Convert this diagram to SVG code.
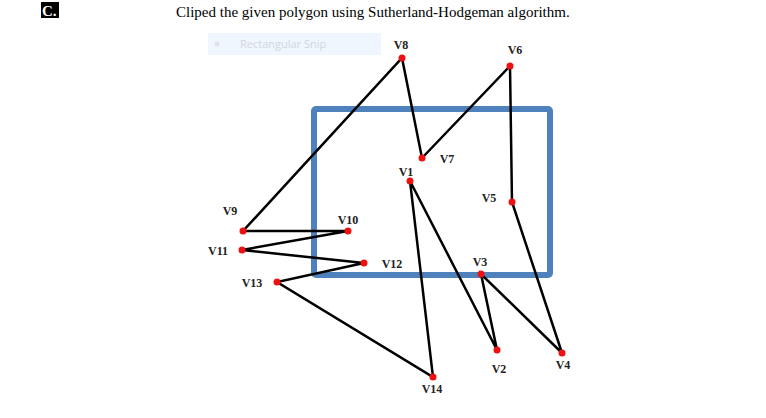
<svg xmlns="http://www.w3.org/2000/svg" width="766" height="418" viewBox="0 0 766 418">
<style>
.lbl{font-family:"Liberation Serif",serif;font-weight:bold;font-size:12px;fill:#222;text-anchor:middle}
.edge{stroke:#000;stroke-width:2.5;fill:none}
.pt{fill:#ee1111}
</style>
<rect width="766" height="418" fill="#fff"/>
<rect x="41" y="2" width="18" height="16" fill="#000"/>
<text x="42" y="16" font-family="Liberation Serif,serif" font-weight="bold" font-size="15" fill="#fff">C.</text>
<text x="176" y="17" font-family="Liberation Serif,serif" font-size="15" fill="#000">Cliped the given polygon using Sutherland-Hodgeman algorithm.</text>
<g id="snip">
<rect x="208" y="33" width="173" height="22" fill="#f0f6fd"/>
<circle cx="217" cy="44" r="2.5" fill="#dde4ec"/>
<text x="240" y="48" font-family="Open Sans,sans-serif" font-size="11" fill="#cfd6de">Rectangular Snip</text>
</g>
<g id="window">
<rect x="314" y="109" width="236" height="166" rx="2" fill="none" stroke="#4f81bd" stroke-width="6"/>
</g>
<g id="connectors">
<polygon class="edge" points="410,181 497,350 481,274 562,353 512,202 510,66 422,158 402,58 243,231 348,231 242,250 364,263 277,282 433,377"/>
</g>
<g id="V1"><circle class="pt" cx="410" cy="181" r="3.5"/><text class="lbl" x="406" y="176">V1</text></g>
<g id="V2"><circle class="pt" cx="497" cy="350" r="3.5"/><text class="lbl" x="499" y="373">V2</text></g>
<g id="V3"><circle class="pt" cx="481" cy="274" r="3.5"/><text class="lbl" x="480" y="266">V3</text></g>
<g id="V4"><circle class="pt" cx="562" cy="353" r="3.5"/><text class="lbl" x="563" y="369">V4</text></g>
<g id="V5"><circle class="pt" cx="512" cy="202" r="3.5"/><text class="lbl" x="489" y="202">V5</text></g>
<g id="V6"><circle class="pt" cx="510" cy="66" r="3.5"/><text class="lbl" x="515" y="54">V6</text></g>
<g id="V7"><circle class="pt" cx="422" cy="158" r="3.5"/><text class="lbl" x="447" y="163">V7</text></g>
<g id="V8"><circle class="pt" cx="402" cy="58" r="3.5"/><text class="lbl" x="401" y="49">V8</text></g>
<g id="V9"><circle class="pt" cx="243" cy="231" r="3.5"/><text class="lbl" x="230" y="215">V9</text></g>
<g id="V10"><circle class="pt" cx="348" cy="231" r="3.5"/><text class="lbl" x="348" y="224">V10</text></g>
<g id="V11"><circle class="pt" cx="242" cy="250" r="3.5"/><text class="lbl" x="218" y="255">V11</text></g>
<g id="V12"><circle class="pt" cx="364" cy="263" r="3.5"/><text class="lbl" x="392" y="268">V12</text></g>
<g id="V13"><circle class="pt" cx="277" cy="282" r="3.5"/><text class="lbl" x="252" y="287">V13</text></g>
<g id="V14"><circle class="pt" cx="433" cy="377" r="3.5"/><text class="lbl" x="432" y="393">V14</text></g>
</svg>
